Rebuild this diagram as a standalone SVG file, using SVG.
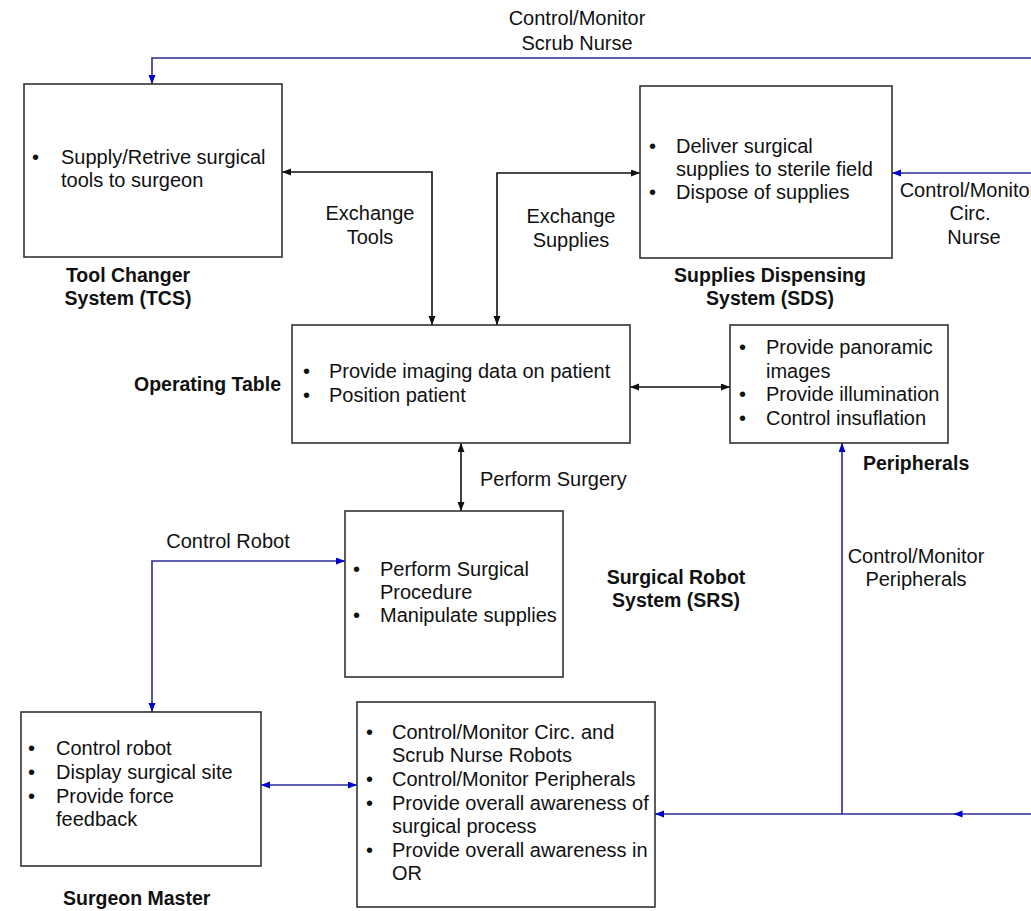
<svg xmlns="http://www.w3.org/2000/svg" width="1031" height="911" viewBox="0 0 1031 911">
<style>
.box{fill:#fff;stroke:#333;stroke-width:1.6}
.t{font-family:"Liberation Sans",Arial,sans-serif;font-size:20px;fill:#111}
.b{font-family:"Liberation Sans",Arial,sans-serif;font-size:19.5px;font-weight:bold;fill:#111}
.m{text-anchor:middle}
.k{fill:none;stroke:#111;stroke-width:1.6}
.u{fill:none;stroke:#2a2a9a;stroke-width:1.6}
</style>
<defs>
<marker id="ak" markerUnits="userSpaceOnUse" markerWidth="10" markerHeight="8" refX="9" refY="3.5" orient="auto-start-reverse"><path d="M0,0 L9,3.5 L0,7 z" fill="#111"/></marker>
<marker id="au" markerUnits="userSpaceOnUse" markerWidth="10" markerHeight="8" refX="9" refY="3.5" orient="auto-start-reverse"><path d="M0,0 L9,3.5 L0,7 z" fill="#0000cc"/></marker>
<marker id="am" markerUnits="userSpaceOnUse" markerWidth="10" markerHeight="8" refX="4.5" refY="3.5" orient="auto"><path d="M0,0 L9,3.5 L0,7 z" fill="#0000cc"/></marker>
</defs>
<rect width="1031" height="911" fill="#fff"/>

<g id="connectors">
<path class="u" d="M1031,58 H152 V84" marker-end="url(#au)"/>
<path class="u" d="M1031,173 H892" marker-end="url(#au)"/>
<path class="k" d="M282,172 H432 V325" marker-start="url(#ak)" marker-end="url(#ak)"/>
<path class="k" d="M640,173 H497 V325" marker-start="url(#ak)" marker-end="url(#ak)"/>
<path class="k" d="M630,387 H730" marker-start="url(#ak)" marker-end="url(#ak)"/>
<path class="k" d="M461,443 V511" marker-start="url(#ak)" marker-end="url(#ak)"/>
<path class="u" d="M345,561 H152 V712" marker-start="url(#au)" marker-end="url(#au)"/>
<path class="u" d="M261,785 H357" marker-start="url(#au)" marker-end="url(#au)"/>
<path class="u" d="M1031,814 H958 H655" marker-mid="url(#am)" marker-end="url(#au)"/>
<path class="u" d="M842,814 V443" marker-end="url(#au)"/>
<text class="t m" x="577" y="25">Control/Monitor</text>
<text class="t m" x="577" y="50">Scrub Nurse</text>
<text class="t m" x="968" y="197">Control/Monitor</text>
<text class="t m" x="970" y="220">Circ.</text>
<text class="t m" x="974" y="244">Nurse</text>
<text class="t m" x="370" y="220">Exchange</text>
<text class="t m" x="370" y="244">Tools</text>
<text class="t m" x="571" y="223">Exchange</text>
<text class="t m" x="571" y="247">Supplies</text>
<text class="t" x="480" y="486">Perform Surgery</text>
<text class="t m" x="228" y="548">Control Robot</text>
<text class="t m" x="916" y="563">Control/Monitor</text>
<text class="t m" x="916" y="586">Peripherals</text>
</g>

<g id="tcs">
<rect class="box" x="24" y="84" width="258" height="173"/>
<text class="t" x="32" y="164">•</text>
<text class="t" x="61" y="164">Supply/Retrive surgical</text>
<text class="t" x="61" y="187">tools to surgeon</text>
<text class="b m" x="128" y="282">Tool Changer</text>
<text class="b m" x="128" y="305">System (TCS)</text>
</g>

<g id="sds">
<rect class="box" x="640" y="86" width="252" height="172"/>
<text class="t" x="649" y="153">•</text>
<text class="t" x="676" y="153">Deliver surgical</text>
<text class="t" x="676" y="176">supplies to sterile field</text>
<text class="t" x="649" y="199">•</text>
<text class="t" x="676" y="199">Dispose of supplies</text>
<text class="b m" x="770" y="282">Supplies Dispensing</text>
<text class="b m" x="770" y="305">System (SDS)</text>
</g>

<g id="operating-table">
<rect class="box" x="292" y="325" width="338" height="118"/>
<text class="t" x="303" y="378">•</text>
<text class="t" x="329" y="378">Provide imaging data on patient</text>
<text class="t" x="303" y="402">•</text>
<text class="t" x="329" y="402">Position patient</text>
<text class="b" x="281" y="391" text-anchor="end">Operating Table</text>
</g>

<g id="peripherals">
<rect class="box" x="730" y="325" width="218" height="118"/>
<text class="t" x="739" y="354">•</text>
<text class="t" x="766" y="354">Provide panoramic</text>
<text class="t" x="766" y="378">images</text>
<text class="t" x="739" y="401">•</text>
<text class="t" x="766" y="401">Provide illumination</text>
<text class="t" x="739" y="425">•</text>
<text class="t" x="766" y="425">Control insuflation</text>
<text class="b" x="863" y="470">Peripherals</text>
</g>

<g id="srs">
<rect class="box" x="345" y="511" width="218" height="166"/>
<text class="t" x="353" y="576">•</text>
<text class="t" x="380" y="576">Perform Surgical</text>
<text class="t" x="380" y="599">Procedure</text>
<text class="t" x="353" y="622">•</text>
<text class="t" x="380" y="622">Manipulate supplies</text>
<text class="b m" x="676" y="584">Surgical Robot</text>
<text class="b m" x="676" y="607">System (SRS)</text>
</g>

<g id="surgeon-master">
<rect class="box" x="21" y="712" width="240" height="154"/>
<text class="t" x="28" y="755">•</text>
<text class="t" x="56" y="755">Control robot</text>
<text class="t" x="28" y="779">•</text>
<text class="t" x="56" y="779">Display surgical site</text>
<text class="t" x="28" y="803">•</text>
<text class="t" x="56" y="803">Provide force</text>
<text class="t" x="56" y="826">feedback</text>
<text class="b" x="63" y="905">Surgeon Master</text>
</g>

<g id="central-controller">
<rect class="box" x="357" y="702" width="298" height="205"/>
<text class="t" x="366" y="739">•</text>
<text class="t" x="392" y="739">Control/Monitor Circ. and</text>
<text class="t" x="392" y="762">Scrub Nurse Robots</text>
<text class="t" x="366" y="786">•</text>
<text class="t" x="392" y="786">Control/Monitor Peripherals</text>
<text class="t" x="366" y="810">•</text>
<text class="t" x="392" y="810">Provide overall awareness of</text>
<text class="t" x="392" y="833">surgical process</text>
<text class="t" x="366" y="857">•</text>
<text class="t" x="392" y="857">Provide overall awareness in</text>
<text class="t" x="392" y="880">OR</text>
</g>
</svg>
